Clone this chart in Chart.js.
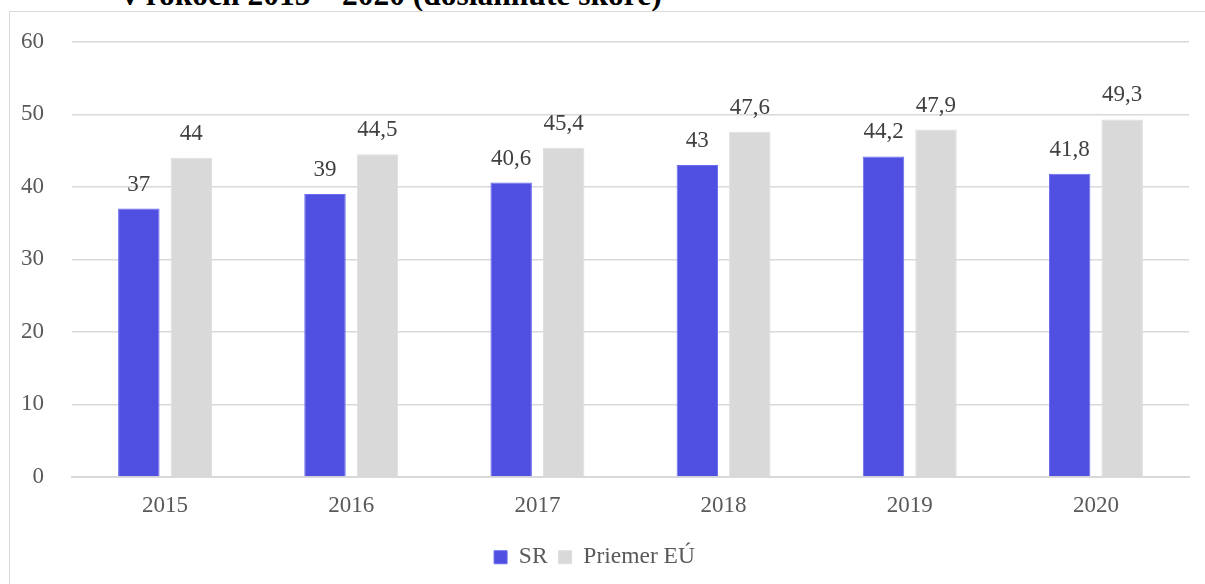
<!DOCTYPE html>
<html>
<head>
<title>SR vs EU</title>
<script src="https://cdn.jsdelivr.net/npm/chart.js"></script>
<style>
  body{ margin:0; width:1205px; height:584px; overflow:hidden; background:#fff; position:relative; }
  #frame{ position:absolute; left:9px; top:11px; width:1300px; height:700px; border:1px solid #d9d9d9; }
  #title{ position:absolute; left:122px; top:-21px; font:bold 31.5px "Liberation Serif", serif; line-height:31.5px; color:#000; white-space:nowrap; }
  #wrap{ position:absolute; left:0; top:0; width:1205px; height:584px; }
  #warm{ position:absolute; left:-999px; font:23px "Liberation Serif"; }
</style>
</head>
<body>
<div id="title">v rokoch 2015 – 2020 (dosiahnuté skóre)</div>
<div id="warm">0123</div>
<div id="frame"></div>
<div id="wrap"><canvas id="myChart"></canvas></div>
<script>
const years = ['2015', '2016', '2017', '2018', '2019', '2020'];
const srValues = [37, 39, 40.6, 43, 44.2, 41.8];
const euValues = [44, 44.5, 45.4, 47.6, 47.9, 49.3];
const yTicks = [0, 10, 20, 30, 40, 50, 60];

const serif = '"Liberation Serif", "Times New Roman", serif';

// value labels above each bar, slovak decimal comma
const barLabels = {
  id: 'barLabels',
  afterDatasetsDraw(chart) {
    const ctx = chart.ctx;
    ctx.save();
    ctx.font = '23px ' + serif;
    ctx.fillStyle = '#404040';
    ctx.textAlign = 'center';
    ctx.textBaseline = 'middle';
    chart.data.datasets.forEach((ds, i) => {
      chart.getDatasetMeta(i).data.forEach((bar, j) => {
        ctx.fillText(String(ds.data[j]).replace('.', ','), bar.x, bar.y - 24);
      });
    });
    ctx.restore();
  }
};

const data = {
  labels: years,
  datasets: [{
    label: 'SR',
    data: srValues,
    backgroundColor: '#4f4fe2',
    borderColor: '#6a6aee',
    borderWidth: 1
  }, {
    label: 'Priemer EÚ',
    data: euValues,
    backgroundColor: '#d9d9d9',
    borderColor: '#dedede',
    borderWidth: 1
  }]
};

const config = {
  type: 'bar',
  data: data,
  options: {
    responsive: true,
    maintainAspectRatio: false,
    animation: false,
    categoryPercentage: 0.564,
    barPercentage: 0.79,
    layout: { padding: { top: 41, right: 16, bottom: 5, left: 0 } },
    scales: {
      x: {
        grid: { display: false, drawTicks: false },
        border: { color: '#d9d9d9', width: 2 },
        ticks: { padding: 15, color: '#595959', font: { family: serif, size: 23 } }
      },
      y: {
        min: 0,
        max: 60,
        afterBuildTicks: scale => { scale.ticks = yTicks.map(v => ({ value: v })); },
        afterFit: scale => { scale.width = 72; },
        grid: { color: '#d9d9d9', lineWidth: 1.5, drawTicks: false },
        border: { display: false },
        ticks: { padding: 28, color: '#595959', font: { family: serif, size: 23 } }
      }
    },
    plugins: {
      legend: {
        position: 'bottom',
        labels: {
          boxWidth: 13,
          boxHeight: 13,
          padding: 11,
          color: '#595959',
          font: { family: serif, size: 23.5 }
        }
      },
      tooltip: { enabled: false }
    }
  },
  plugins: [barLabels]
};

document.fonts.load('23px "Liberation Serif"').then(() => {
  const myChart = new Chart(document.getElementById('myChart'), config);
});
</script>
</body>
</html>
